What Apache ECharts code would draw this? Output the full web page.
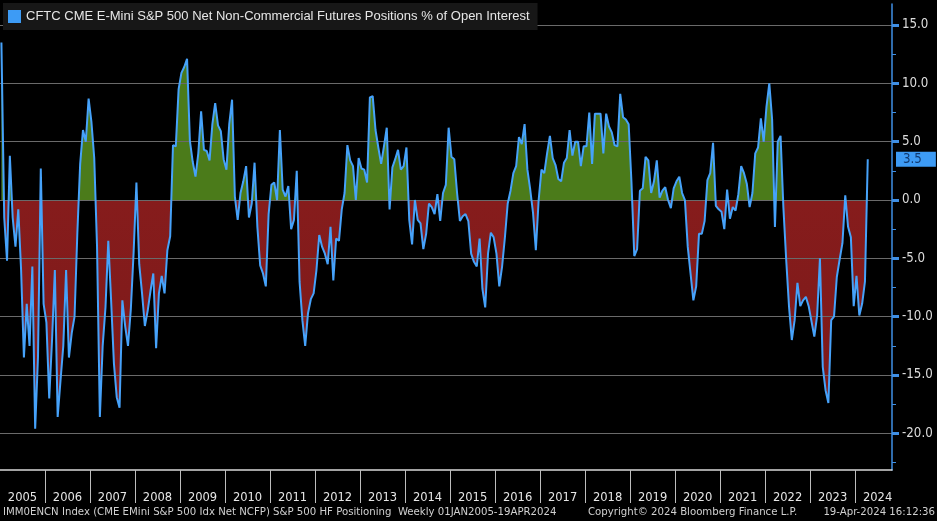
<!DOCTYPE html>
<html>
<head>
<meta charset="utf-8">
<script src="https://cdn.jsdelivr.net/npm/echarts@6/dist/echarts.min.js"></script>
<style>
html,body{margin:0;padding:0;background:#000;}
#c{width:937px;height:521px;}
</style>
</head>
<body>
<div id="c"></div>
<script>
const seriesName = 'CFTC CME E-Mini S&P 500 Net Non-Commercial Futures Positions % of Open Interest';
const yearLabels = [2005,2006,2007,2008,2009,2010,2011,2012,2013,2014,2015,2016,2017,2018,2019,2020,2021,2022,2023,2024];
const yTicks = [-20,-15,-10,-5,0,5,10,15];
const samplesPerYear = 16;

const d2005 = [13.5,-1.5,-5.2,3.8,-1.5,-4.0,-0.8,-6.0,-13.5,-8.9,-12.5,-5.7,-19.6,-13.5,2.7,-8.9];
const d2006 = [-10.5,-17.0,-12.0,-6.0,-18.6,-15.5,-12.5,-6.0,-13.5,-11.4,-10.0,-2.8,3.1,6.0,5.0,8.7];
const d2007 = [6.7,3.6,-4.0,-18.6,-12.5,-9.2,-3.5,-8.6,-14.0,-16.9,-17.8,-8.6,-10.8,-12.5,-9.4,-4.5];
const d2008 = [1.5,-5.5,-8.0,-10.8,-9.5,-7.8,-6.3,-12.7,-8.0,-6.5,-8.0,-4.3,-3.1,4.7,4.6,9.5];
const d2009 = [10.9,11.4,12.1,5.1,3.3,2.0,4.0,7.6,4.3,4.2,3.4,6.5,8.3,6.4,5.9,3.5];
const d2010 = [2.6,6.5,8.6,0.3,-1.7,0.6,1.6,2.9,-1.5,-0.3,3.2,-2.3,-5.6,-6.3,-7.4,-1.2];
const d2011 = [1.3,1.5,0.0,6.0,0.9,0.3,1.2,-2.5,-1.7,2.5,-7.0,-10.3,-12.5,-9.7,-8.5,-8.0];
const d2012 = [-6.0,-3.0,-4.0,-4.6,-5.5,-2.3,-6.9,-3.3,-3.5,-0.8,0.6,4.7,3.4,2.9,0.0,3.6];
const d2013 = [2.7,2.6,1.5,8.8,8.9,6.0,4.5,3.1,4.6,6.2,-0.8,2.8,3.5,4.3,2.6,2.9];
const d2014 = [4.5,-1.7,-3.8,0.0,-1.7,-2.0,-4.2,-2.9,-0.3,-0.6,-1.2,0.5,-1.8,0.6,1.3,6.2];
const d2015 = [3.7,3.5,0.6,-1.8,-1.4,-1.2,-1.8,-4.6,-5.3,-5.7,-3.3,-7.6,-9.2,-4.6,-2.8,-3.2];
const d2016 = [-4.6,-7.4,-5.7,-3.2,-0.3,0.8,2.3,2.9,5.4,4.8,6.5,2.6,0.9,-1.1,-4.3,0.0];
const d2017 = [2.6,2.3,4.0,5.5,3.6,3.0,1.8,1.6,3.2,3.6,6.0,3.8,5.0,5.0,2.9,4.6];
const d2018 = [4.6,7.5,3.1,7.4,7.4,7.4,4.0,7.4,6.3,5.8,4.7,4.6,9.1,7.1,6.9,6.5];
const d2019 = [1.5,-4.8,-4.2,0.8,1.0,3.7,3.4,0.6,1.6,3.4,0.2,0.8,1.1,0.0,-0.7,1.0];
const d2020 = [1.6,2.0,0.6,0.0,-4.0,-6.3,-8.6,-7.4,-2.9,-2.9,-1.8,1.7,2.3,4.9,-0.5,-0.8];
const d2021 = [-1.0,-2.5,0.9,-1.6,-0.6,-0.9,0.5,2.9,2.3,1.4,-0.6,0.6,4.0,4.5,7.0,5.0];
const d2022 = [8.0,10.0,6.9,-2.3,5.0,5.5,-0.6,-5.1,-9.1,-12.0,-10.3,-7.1,-9.1,-8.6,-8.3,-9.1];
const d2023 = [-10.4,-11.7,-9.9,-5.0,-14.3,-16.3,-17.4,-10.3,-10.0,-6.6,-5.1,-3.7,0.4,-2.3,-3.2,-9.1];
const d2024 = [-6.5,-9.9,-8.9,-7.0,3.5];

const yearData = [d2005,d2006,d2007,d2008,d2009,d2010,d2011,d2012,d2013,d2014,d2015,d2016,d2017,d2018,d2019,d2020,d2021,d2022,d2023,d2024];

const footerLeft = 'IMM0ENCN Index (CME EMini S&P 500 Idx Net NCFP) S&P 500 HF Positioning  Weekly 01JAN2005-19APR2024';
const footerMid = 'Copyright\u00A9 2024 Bloomberg Finance L.P.';
const footerRight = '19-Apr-2024 16:12:36';

const points = [];
yearLabels.forEach((y, k) => {
  yearData[k].forEach((v, i) => points.push([y + (i + 0.5) / samplesPerYear, v]));
});
const lastValue = points[points.length - 1][1];

const COND = "'DejaVu Sans Condensed', 'DejaVu Sans', sans-serif";
const BLUE = '#3d9bf5';
const AXIS_BLUE = '#3f8fe4';
const GREEN = '#4b7b1a';
const RED = '#861c1c';
const GRID = {left: 0, right: 45, top: 4, bottom: 51};

const chart = echarts.init(document.getElementById('c'), null, {renderer: 'canvas'});
chart.setOption({
  backgroundColor: '#000000',
  animation: false,
  grid: Object.assign({containLabel: false}, GRID),
  legend: {
    left: 3, top: 3,
    padding: [7, 8, 7, 5],
    backgroundColor: '#171717',
    itemWidth: 13, itemHeight: 13,
    selectedMode: false,
    data: [{name: seriesName, icon: 'rect', itemStyle: {color: BLUE}}],
    textStyle: {color: '#e6e6e6', fontSize: 13, fontFamily: "'Liberation Sans', Arial, sans-serif"}
  },
  xAxis: {
    type: 'value', min: 2005, max: 2024.82, interval: 1,
    axisLine: {show: true, onZero: false, lineStyle: {color: '#d9d9d9', width: 1.5}},
    axisTick: {show: true, customValues: yearLabels.slice(1), length: 33, lineStyle: {color: '#bdbdbd', width: 1}},
    axisLabel: {
      customValues: yearLabels.map(y => y + 0.5),
      formatter: v => String(Math.floor(v)),
      color: '#e6e6e6', fontSize: 12.8, fontFamily: COND, margin: 21
    },
    splitLine: {show: false}
  },
  yAxis: {
    type: 'value', position: 'right', min: -23.14, max: 16.8,
    minInterval: 5, maxInterval: 5, splitNumber: 8,
    axisLine: {show: true, lineStyle: {color: AXIS_BLUE, width: 1.5}},
    axisTick: {show: true, customValues: yTicks, length: 7, lineStyle: {color: AXIS_BLUE, width: 3}},
    minorTick: {show: true, splitNumber: 2, length: 4, lineStyle: {color: AXIS_BLUE, width: 1}},
    axisLabel: {
      customValues: yTicks,
      formatter: v => Number(v).toFixed(1),
      color: '#dcdcdc', fontSize: 13.2, fontFamily: COND, margin: 10
    },
    splitLine: {show: true, lineStyle: {color: '#6a6a6a', width: 1}},
    axisPointer: {
      show: true, type: 'line', value: lastValue, status: 'show', snap: false,
      triggerTooltip: false,
      lineStyle: {opacity: 0},
      label: {
        show: true,
        formatter: p => Number(p.value).toFixed(1),
        backgroundColor: BLUE, color: '#123a70',
        fontSize: 13.2, fontFamily: COND,
        padding: [1, 14, 1, 7], margin: 4, borderRadius: 0
      },
      handle: {show: false}
    }
  },
  series: [
    {
      type: 'line', name: 'fill', data: points, symbol: 'none', silent: true,
      lineStyle: {width: 0, opacity: 0},
      areaStyle: {opacity: 1, origin: 0, color: GREEN},
      z: -1
    },
    {
      type: 'line', name: seriesName, data: points, symbol: 'none',
      lineStyle: {width: 2, color: '#46a2fa'},
      itemStyle: {color: BLUE},
      z: 3
    }
  ],
  graphic: [
    {type: 'text', left: 3, top: 507, style: {text: footerLeft, fill: '#d0d0d0', font: "11.3px " + COND}},
    {type: 'text', left: 588, top: 507, style: {text: footerMid, fill: '#d0d0d0', font: "11.3px " + COND}},
    {type: 'text', right: 2, top: 507, style: {text: footerRight, fill: '#d0d0d0', font: "11.3px " + COND}}
  ]
});

// Colour the fill green above the zero line and red below it, using the axis scale.
const yTop = chart.convertToPixel({yAxisIndex: 0}, 16.8);
const yBottom = chart.convertToPixel({yAxisIndex: 0}, -23.14);
const yZero = chart.convertToPixel({yAxisIndex: 0}, 0);
const f = (yZero - yTop) / (yBottom - yTop);
chart.setOption({
  series: [{
    name: 'fill',
    areaStyle: {
      color: new echarts.graphic.LinearGradient(0, yTop, 0, yBottom, [
        {offset: 0, color: GREEN}, {offset: f, color: GREEN},
        {offset: f, color: RED}, {offset: 1, color: '#7a1919'}
      ], true)
    }
  }]
});
</script>
</body>
</html>
